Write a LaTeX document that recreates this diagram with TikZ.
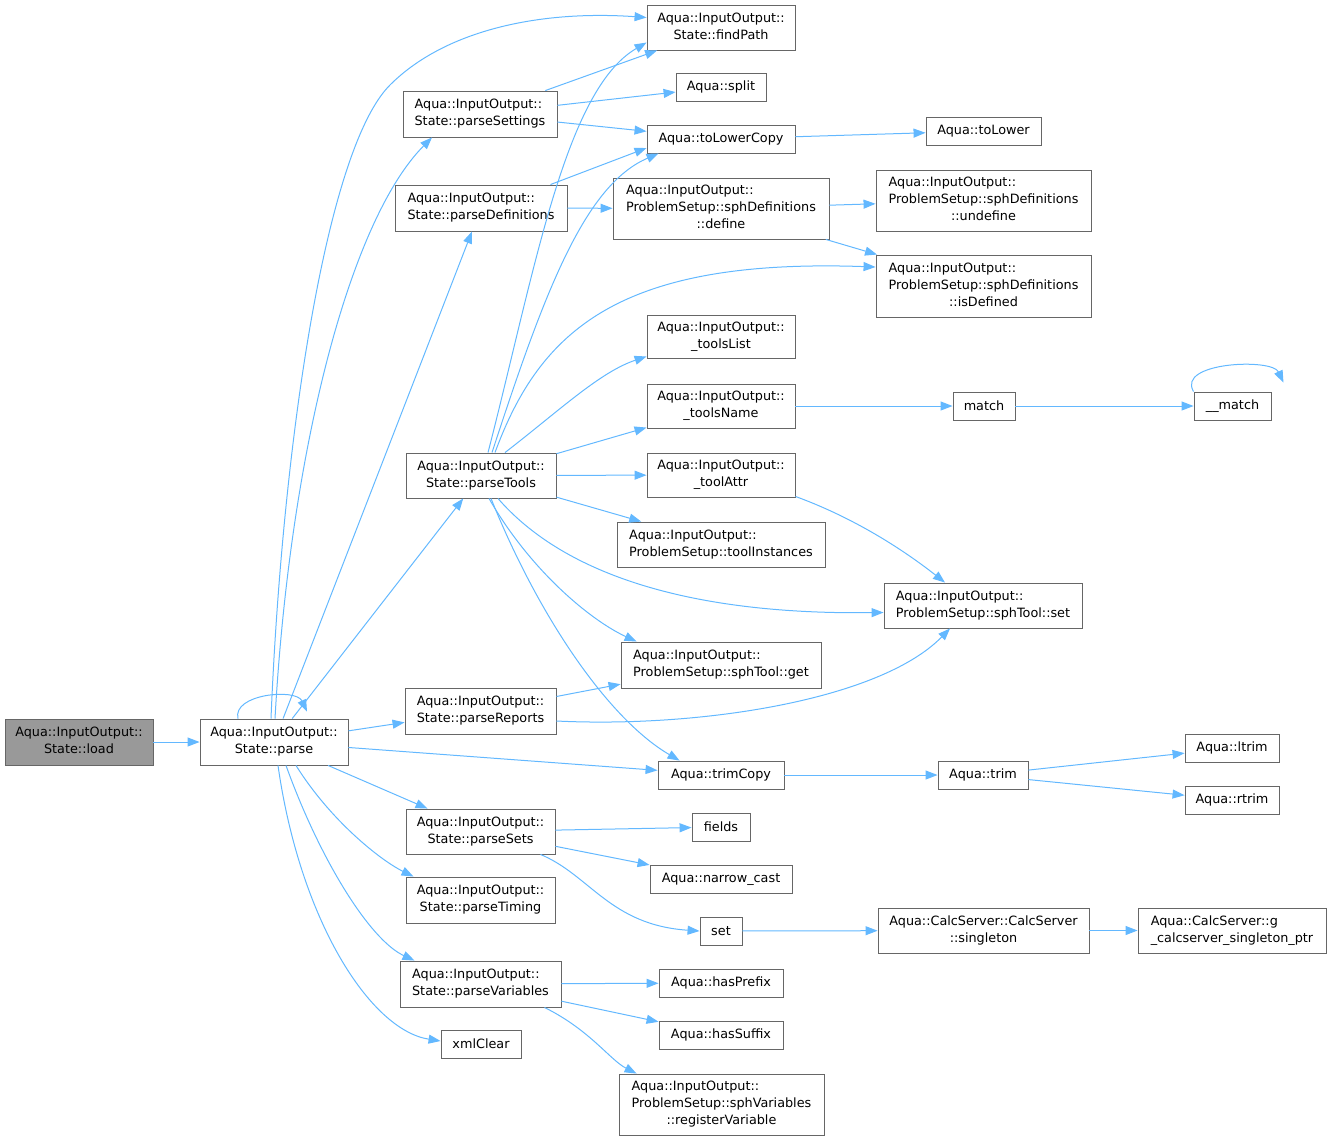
\documentclass[tikz,border=0pt]{standalone}
\usepackage{fontspec}
\setmainfont{DejaVu Sans}
\usetikzlibrary{arrows.meta}
\definecolor{boxgray}{HTML}{666666}
\definecolor{curgray}{HTML}{999999}
\definecolor{callblue}{HTML}{63B8FF}
% first lines flush left, last line centred
\newcommand\fnlines[2]{\raisebox{-1.5pt}{\begin{tabular}{@{}l@{}}#1\\\multicolumn{1}{@{}c@{}}{#2}\end{tabular}}}
\tikzset{
  fn/.style={draw=boxgray, fill=white, line width=0.9pt, align=center, inner sep=0pt,
    font=\fontsize{12.8}{17}\selectfont},
  cur/.style={fn, fill=curgray},
  call/.style={draw=callblue, line width=1pt, -{Triangle[length=12pt,width=9pt]}}
}
\begin{document}
\begin{tikzpicture}[x=1pt,y=-1pt]
        \useasboundingbox (0,0) rectangle (1332,1141);
        % callers column
        \node[cur, minimum width=148pt, minimum height=46pt] (ld) at (79,742) {\fnlines{Aqua::InputOutput::}{State::load}};
        \node[fn, minimum width=148pt, minimum height=46pt] (prs) at (274,742) {\fnlines{Aqua::InputOutput::}{State::parse}};
        \node[fn, minimum width=154pt, minimum height=46pt] (pset) at (480,114) {\fnlines{Aqua::InputOutput::}{State::parseSettings}};
        \node[fn, minimum width=172pt, minimum height=46pt] (pdef) at (481,208) {\fnlines{Aqua::InputOutput::}{State::parseDefinitions}};
        \node[fn, minimum width=150pt, minimum height=45pt] (ptool) at (481,475.5) {\fnlines{Aqua::InputOutput::}{State::parseTools}};
        \node[fn, minimum width=151pt, minimum height=46pt] (prep) at (480.5,711) {\fnlines{Aqua::InputOutput::}{State::parseReports}};
        \node[fn, minimum width=149pt, minimum height=45pt] (psets) at (480.5,831.5) {\fnlines{Aqua::InputOutput::}{State::parseSets}};
        \node[fn, minimum width=149pt, minimum height=46pt] (ptim) at (480.5,900) {\fnlines{Aqua::InputOutput::}{State::parseTiming}};
        \node[fn, minimum width=161pt, minimum height=46pt] (pvar) at (480.5,984) {\fnlines{Aqua::InputOutput::}{State::parseVariables}};
        \node[fn, minimum width=80pt, minimum height=28pt] (xclr) at (481,1044) {xmlClear};
        % middle column
        \node[fn, minimum width=148pt, minimum height=45pt] (fpath) at (721,27.5) {\fnlines{Aqua::InputOutput::}{State::findPath}};
        \node[fn, minimum width=90pt, minimum height=28pt] (splt) at (721,87) {Aqua::split};
        \node[fn, minimum width=148pt, minimum height=28pt] (tlc) at (721,139) {Aqua::toLowerCopy};
        \node[fn, minimum width=216pt, minimum height=61pt] (sdef) at (721,208.5) {\fnlines{Aqua::InputOutput::\\ProblemSetup::sphDefinitions}{::define}};
        \node[fn, minimum width=148pt, minimum height=43pt] (tlist) at (721,336.5) {\fnlines{Aqua::InputOutput::}{\_toolsList}};
        \node[fn, minimum width=148pt, minimum height=44pt] (tname) at (721,406) {\fnlines{Aqua::InputOutput::}{\_toolsName}};
        \node[fn, minimum width=148pt, minimum height=44pt] (tattr) at (721,475) {\fnlines{Aqua::InputOutput::}{\_toolAttr}};
        \node[fn, minimum width=208pt, minimum height=45pt] (tinst) at (721,544.5) {\fnlines{Aqua::InputOutput::}{ProblemSetup::toolInstances}};
        \node[fn, minimum width=200pt, minimum height=46pt] (tget) at (721,665) {\fnlines{Aqua::InputOutput::}{ProblemSetup::sphTool::get}};
        \node[fn, minimum width=126pt, minimum height=28pt] (tcpy) at (721,775) {Aqua::trimCopy};
        \node[fn, minimum width=58pt, minimum height=28pt] (flds) at (721,827) {fields};
        \node[fn, minimum width=142pt, minimum height=28pt] (ncast) at (721,879) {Aqua::narrow\_cast};
        \node[fn, minimum width=42pt, minimum height=28pt] (cset) at (721,931) {set};
        \node[fn, minimum width=124pt, minimum height=28pt] (hpre) at (721,983) {Aqua::hasPrefix};
        \node[fn, minimum width=124pt, minimum height=28pt] (hsuf) at (721,1035) {Aqua::hasSuffix};
        \node[fn, minimum width=205pt, minimum height=61pt] (rvar) at (721.5,1104.5) {\fnlines{Aqua::InputOutput::\\ProblemSetup::sphVariables}{::registerVariable}};
        % right columns
        \node[fn, minimum width=115pt, minimum height=28pt] (tlow) at (983.5,131) {Aqua::toLower};
        \node[fn, minimum width=215pt, minimum height=61pt] (sund) at (983.5,200.5) {\fnlines{Aqua::InputOutput::\\ProblemSetup::sphDefinitions}{::undefine}};
        \node[fn, minimum width=215pt, minimum height=62pt] (sisd) at (983.5,286) {\fnlines{Aqua::InputOutput::\\ProblemSetup::sphDefinitions}{::isDefined}};
        \node[fn, minimum width=62pt, minimum height=28pt] (mtch) at (984,406) {match};
        \node[fn, minimum width=77pt, minimum height=28pt] (umtch) at (1232.5,406) {\_\_match};
        \node[fn, minimum width=198pt, minimum height=45pt] (tset) at (983,605.5) {\fnlines{Aqua::InputOutput::}{ProblemSetup::sphTool::set}};
        \node[fn, minimum width=90pt, minimum height=28pt] (trm) at (983,775) {Aqua::trim};
        \node[fn, minimum width=94pt, minimum height=28pt] (ltrm) at (1232,748) {Aqua::ltrim};
        \node[fn, minimum width=94pt, minimum height=28pt] (rtrm) at (1232,800) {Aqua::rtrim};
        \node[fn, minimum width=211pt, minimum height=45pt] (csing) at (983.5,930.5) {\fnlines{Aqua::CalcServer::CalcServer}{::singleton}};
        \node[fn, minimum width=188pt, minimum height=45pt] (gptr) at (1232,930.5) {\fnlines{Aqua::CalcServer::g}{\_calcserver\_singleton\_ptr}};
        % calls from parse
        \draw[call] (ld) -- (prs);
        \draw[call] ([xshift=-36pt]prs.north) .. controls (232,694) and (296,688) .. ([xshift=33pt,yshift=7pt]prs.north);
        \draw[call] ([xshift=-3pt]prs.north) .. controls (282,450) and (325,150) .. (390,85) .. controls (445,30) and (540,10) .. ([yshift=10pt]fpath.west);
        \draw[call] ([xshift=1pt]prs.north) .. controls (290,450) and (350,220) .. ([xshift=-48pt]pset.south);
        \draw[call] (prs) -- (pdef);
        \draw[call] (prs) -- (ptool);
        \draw[call] (prs) -- (prep);
        \draw[call] (prs) -- (tcpy);
        \draw[call] (prs) -- (psets);
        \draw[call] ([xshift=22pt]prs.south) .. controls (330,820) and (380,860) .. ([xshift=-67pt]ptim.north);
        \draw[call] ([xshift=12pt]prs.south) .. controls (320,860) and (370,940) .. ([xshift=-66pt]pvar.north);
        \draw[call] ([xshift=4pt]prs.south) .. controls (300,920) and (370,1030) .. ([yshift=3pt]xclr.west);
        % parseSettings, parseDefinitions
        \draw[call] (pset) -- (fpath);
        \draw[call] (pset) -- (splt);
        \draw[call] (pset) -- (tlc);
        \draw[call] (tlc) -- (tlow);
        \draw[call] ([xshift=-17pt]pdef.north east) -- ([yshift=-9pt]tlc.west);
        \draw[call] (pdef) -- (sdef);
        \draw[call] (sdef) -- (sund);
        \draw[call] (sdef) -- (sisd);
        % parseTools
        \draw[call] ([xshift=7pt]ptool.north) .. controls (535,270) and (565,90) .. ([yshift=-15pt]fpath.west);
        \draw[call] ([xshift=11pt]ptool.north) .. controls (545,290) and (585,185) .. ([xshift=12pt]tlc.south west);
        \draw[call] ([xshift=14pt]ptool.north) .. controls (540,330) and (620,258) .. ([yshift=19pt]sisd.west);
        \draw[call] ([xshift=24pt]ptool.north) .. controls (560,410) and (600,372) .. ([yshift=2pt]tlist.south west);
        \draw[call] (ptool) -- (tname);
        \draw[call] (ptool) -- (tattr);
        \draw[call] (ptool) -- (tinst);
        \draw[call] ([xshift=17pt]ptool.south) .. controls (560,570) and (680,615) .. ([yshift=-7pt]tset.west);
        \draw[call] ([xshift=8pt]ptool.south) .. controls (530,570) and (590,620) .. ([xshift=16pt]tget.north west);
        \draw[call] ([xshift=10pt]ptool.south) .. controls (540,620) and (610,720) .. ([xshift=22pt]tcpy.north west);
        \draw[call] (tname) -- (mtch);
        \draw[call] (mtch) -- (umtch);
        \draw[call] (umtch.north west) .. controls (1176,362) and (1272,358) .. ([xshift=12pt,yshift=9pt]umtch.north east);
        \draw[call] ([yshift=1pt]tattr.south east) .. controls (860,520) and (910,555) .. ([xshift=-38pt]tset.north);
        % parseReports, trimCopy
        \draw[call] (prep) -- (tget);
        \draw[call] ([yshift=-10pt]prep.east) .. controls (700,728) and (880,700) .. ([xshift=-33pt]tset.south);
        \draw[call] (tcpy) -- (trm);
        \draw[call] (trm) -- (ltrm);
        \draw[call] (trm) -- (rtrm);
        % parseSets, parseVariables
        \draw[call] (psets) -- (flds);
        \draw[call] (psets) -- (ncast);
        \draw[call] ([xshift=60pt]psets.south) .. controls (590,875) and (610,925) .. (cset.west);
        \draw[call] (cset) -- (csing);
        \draw[call] (csing) -- (gptr);
        \draw[call] (pvar) -- (hpre);
        \draw[call] (pvar) -- (hsuf);
        \draw[call] ([xshift=64pt]pvar.south) .. controls (590,1030) and (610,1060) .. ([xshift=18pt]rvar.north west);
    \end{tikzpicture}
\end{document}
